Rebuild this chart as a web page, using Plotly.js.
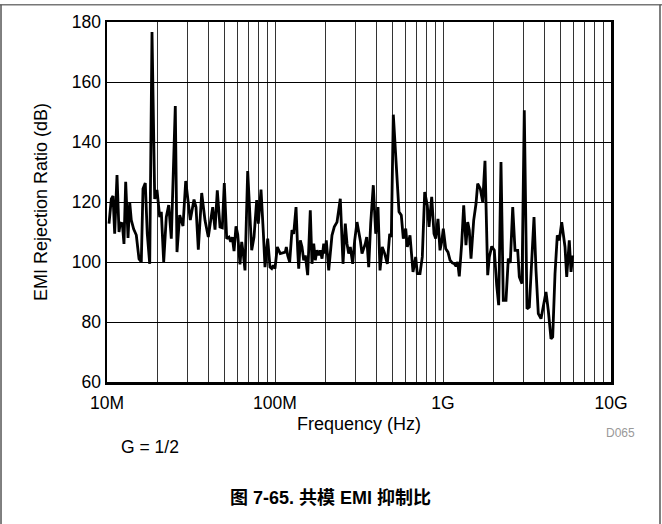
<!DOCTYPE html>
<html>
<head>
<meta charset="utf-8">
<script src="https://cdn.plot.ly/plotly-3.0.1.min.js"></script>
<style>html,body{margin:0;padding:0;background:#fff;}#chart{width:662px;height:524px;}</style>
</head>
<body>
<div id="chart"></div>
<script>
// Frequency in MHz
const freqMHz = [
10.28,10.61,10.86,11.11,11.47,11.79,12.00,12.34,12.62,12.92,13.34,13.65,13.95,14.41,14.94,15.51,16.00,16.38,16.90,17.37,17.96,18.53,19.23,19.84,20.59,21.05,21.75,22.54,23.30,24.14,25.50,26.10,27.08,28.34,29.41,30.35,31.32,
32.95,33.87,34.96,36.62,38.31,40.09,41.43,42.58,43.95,45.35,47.06,48.57,49.91,51.58,53.24,54.49,55.69,57.04,58.59,59.98,61.90,63.36,64.76,66.28,68.78,70.99,72.66,74.99,77.82,79.54,82.55,85.19,87.19,90.47,93.37,95.58,97.70,100.0,103.2,107.5,
115.2,116.8,119.0,122.3,126.2,129.2,133.4,136.5,138.4,141.5,144.8,148.2,151.5,156.5,162.2,166.0,170.0,173.7,177.8,182.0,186.0,190.5,195.0,199.3,202.0,208.8,213.4,218.4,225.4,233.9,244.7,250.5,254.0,262.1,268.3,274.6,280.7,290.1,298.1,307.7,314.9,321.9,329.5,344.7,
351.4,361.2,371.2,384.7,397.6,410.3,421.7,435.2,449.8,466.1,481.6,492.4,506.1,547.1,564.6,580.4,599.8,613.1,636.2,647.6,662.8,687.8,703.1,729.6,753.0,778.2,806.3,825.5,856.5,883.9,904.7,933.7,959.6,982.4,1004,1038,1071,1101,1136,1168,
1195,1223,1250,1292,1328,1370,1403,1434,1468,1523,1572,1609,1667,1723,1778,1845,1887,1950,2020,2088,2145,2214,2285,2371,2447,2515,2600,2683,2784,2846,2953,3047,3162,3264,3373,3481,3578,3692,3831,3992,4103,4234,4395,4498,4642,4790,4924,5089,5201,5324,5449,5646,5780,5916
];
// EMI rejection ratio in dB
const rejectionDB = [
112.8,121,122,109.4,129,110,113,112.8,106,126.7,108,120,114,111,109,101,100,124.4,126.3,109.4,99.4,176.7,121,124,115,116.7,100,115,119,107.8,152,103.3,115.6,112,127,120.6,114,
120.8,118.3,104.1,123,113.9,108.3,113.9,118.3,110.8,123.9,111.7,111.4,126.3,107.8,108.3,106.7,108.3,103.6,111.9,109.2,99.2,106.7,102.8,97.2,130.3,116.7,103.9,108.3,120.6,112.8,124.1,110,98.3,107.8,98.3,97.8,98.9,97.8,105,102.8,
103.3,105,102.2,100,110.6,109.4,118.3,103.9,97.8,107.2,105,100.6,102.2,95.6,117.2,99.4,106.1,100.6,103.9,102.2,103.9,101.1,106.1,102.8,107.2,97.2,103.9,108.9,111.7,113.3,121.1,108.3,99.4,112.8,106.1,102.8,105,99.4,107.2,113.3,110.6,107.2,102.8,106.1,
108.3,98.3,112.8,125.6,109.4,118.3,97.2,105,102.8,99.4,109.4,108.3,149.1,116.7,115.6,107.8,111.1,105,108.9,102.8,96.7,101.7,96.1,96.1,101.7,123.3,118.9,111.7,121.7,109.4,107.8,114.4,103.9,106.7,111.1,104.4,103.3,100.6,99.7,99.4,
98.6,100,95.2,106.1,118.9,105.6,113.3,110.6,101.1,113.9,119.4,126.1,124.4,120,133.7,95.6,101.7,105.2,103.9,92.2,85.6,133.3,87.2,87.2,101.1,99.7,118.3,103.9,103.9,95,92.8,150.6,84.4,85,98.3,115,97.2,82.8,81.1,86.1,90,83.9,74.4,75,96.1,108.9,107.2,113.3,108.9,105,95,107.2,96.7,102.2
];
const xTickVals = [1e7,2e7,3e7,4e7,5e7,6e7,7e7,8e7,9e7,1e8,2e8,3e8,4e8,5e8,6e8,7e8,8e8,9e8,1e9,2e9,3e9,4e9,5e9,6e9,7e9,8e9,9e9,1e10];
const xTickText = ['10M','','','','','','','','','100M','','','','','','','','','1G','','','','','','','','','10G'];
const yTickVals = [60,80,100,120,140,160,180];

const freqHz = freqMHz.map(v => v * 1e6);
const font = 'Liberation Sans, Arial, sans-serif';

const trace = {
  x: freqHz, y: rejectionDB, type: 'scatter', mode: 'lines',
  line: {color: '#000', width: 2.8}, hoverinfo: 'skip'
};

const layout = {
  width: 662, height: 524,
  margin: {l: 107, r: 51, t: 22, b: 142},
  paper_bgcolor: '#fff', plot_bgcolor: '#fff',
  showlegend: false,
  font: {family: font, color: '#000', size: 17},
  xaxis: {
    type: 'log', range: [7, 10],
    tickvals: xTickVals, ticktext: xTickText,
    ticks: 'outside', ticklen: 3, tickcolor: 'rgba(0,0,0,0)',
    showgrid: true, gridcolor: '#333', gridwidth: 1,
    showline: true, mirror: true, linecolor: '#000', linewidth: 2.5,
    zeroline: false, tickfont: {size: 17.5, family: font},
    title: {text: 'Frequency (Hz)', font: {size: 18, family: font}, standoff: 6}
  },
  yaxis: {
    range: [60, 180], tickvals: yTickVals,
    ticks: '', showgrid: true, gridcolor: '#000', gridwidth: 1,
    showline: true, mirror: true, linecolor: '#000', linewidth: 2.5,
    zeroline: false, tickfont: {size: 17.5, family: font},
    title: {text: 'EMI Rejection Ratio (dB)', font: {size: 18, family: font}, standoff: 20}
  },
  annotations: [
    {text: 'D065', xref: 'paper', yref: 'paper', x: 1.052, y: -0.143, xanchor: 'right', yanchor: 'middle', showarrow: false, font: {size: 12, color: '#999', family: font}},
    {text: 'G = 1/2', xref: 'paper', yref: 'paper', x: 0.024, y: -0.181, xanchor: 'left', yanchor: 'middle', showarrow: false, font: {size: 17.5, family: font}},
    {text: '<b>图 7-65. 共模 EMI 抑制比</b>', xref: 'paper', yref: 'paper', x: 0.444, y: -0.321, xanchor: 'center', yanchor: 'middle', showarrow: false, font: {size: 18, family: 'Liberation Sans, Noto Sans CJK SC, sans-serif'}}
  ],
  shapes: [
    {type: 'line', xref: 'paper', yref: 'paper', x0: -0.22, x1: 1.11, y0: 1.0478, y1: 1.0478, line: {color: '#777', width: 1.5}},
    {type: 'line', xref: 'paper', yref: 'paper', x0: -0.2103, x1: -0.2103, y0: 1.0478, y1: -0.4, line: {color: '#555', width: 1.5}},
    {type: 'line', xref: 'paper', yref: 'paper', x0: 1.0972, x1: 1.0972, y0: 1.0478, y1: -0.4, line: {color: '#555', width: 1.5}}
  ]
};

Plotly.newPlot('chart', [trace], layout, {displayModeBar: false, staticPlot: true});
</script>
</body>
</html>
